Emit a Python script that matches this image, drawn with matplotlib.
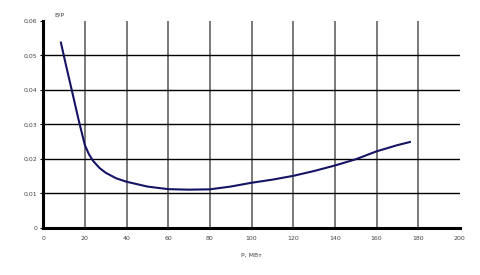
import matplotlib
matplotlib.use("Agg")
import matplotlib.pyplot as plt
from matplotlib.ticker import FuncFormatter

# values
p_mw = [8.5, 11, 14, 17, 20, 22, 24, 27, 30, 35, 40, 50, 60, 70, 80, 90,
        100, 110, 120, 130, 140, 150, 160, 170, 176]
b_p = [0.0537, 0.0470, 0.0392, 0.0313, 0.0240, 0.0213, 0.0194, 0.0174,
       0.0160, 0.0144, 0.0134, 0.0120, 0.01125, 0.0111, 0.0112, 0.0120,
       0.0131, 0.0140, 0.0151, 0.0165, 0.0181, 0.0199, 0.0222, 0.0240,
       0.0249]
x_ticks = list(range(0, 201, 20))
y_ticks = [0, 0.01, 0.02, 0.03, 0.04, 0.05, 0.06]

fig = plt.figure(figsize=(4.8, 2.75), dpi=100)
ax = fig.add_axes([0.09, 0.171, 0.868, 0.753])

for x in x_ticks[1:-1]:
    ax.axvline(x, color="#555555", lw=1.1, zorder=1)
for y in y_ticks[1:-1]:
    ax.axhline(y, color="black", lw=1.0, zorder=1)

ax.plot(p_mw, b_p, color="#141464", lw=1.5, zorder=3)

ax.set_xlim(0, 200)
ax.set_ylim(0, 0.06)
ax.set_xticks(x_ticks)
ax.set_yticks(y_ticks)
ax.yaxis.set_major_formatter(FuncFormatter(
    lambda v, _: "0" if v == 0 else f"{v:.2f}".replace(".", ",")))
ax.tick_params(labelsize=4.5, labelcolor="#444444", length=2, width=0.8,
               pad=2)
ax.tick_params(axis="x", length=0, pad=6)

for s in ("top", "right"):
    ax.spines[s].set_visible(False)
ax.spines["left"].set_linewidth(2.2)
ax.spines["bottom"].set_linewidth(2.2)

ax.text(0.027, 1.015, "B/P", transform=ax.transAxes, fontsize=4.5,
        color="#444444", ha="left", va="bottom")
ax.set_xlabel("P, МВт", fontsize=4.5, color="#444444", labelpad=8)

fig.savefig("out.png", dpi=100)
